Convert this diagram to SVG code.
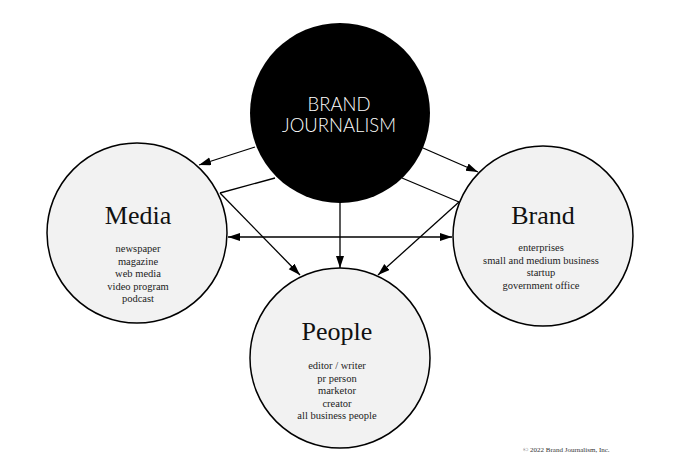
<svg xmlns="http://www.w3.org/2000/svg" width="679" height="469" viewBox="0 0 679 469">
<defs>
<marker id="arr" markerUnits="userSpaceOnUse" markerWidth="13" markerHeight="9" refX="12" refY="4" orient="auto-start-reverse">
<path d="M0,0 L12,4 L0,8 z" fill="#000"/>
</marker>
</defs>
<style>
.node{fill:#f2f2f2;stroke:#000;stroke-width:1.5}
.title{font-family:"Liberation Serif","Times New Roman",serif;font-size:26px;fill:#111;text-anchor:middle}
.item{font-family:"Liberation Serif","Times New Roman",serif;font-size:10.5px;fill:#222;text-anchor:middle}
.bj{font-family:"Lato","Noto Sans",sans-serif;font-weight:300;font-size:19px;fill:#fff;text-anchor:middle}
.edge{stroke:#000;stroke-width:1.3;fill:none}
.copy{font-family:"Liberation Serif","Times New Roman",serif;font-size:7px;fill:#333}
</style>
<rect width="679" height="469" fill="#fff"/>
<g id="connectors">
<line class="edge" x1="255" y1="147" x2="199" y2="165" marker-end="url(#arr)"/>
<line class="edge" x1="423" y1="148" x2="478" y2="172" marker-end="url(#arr)"/>
<line class="edge" x1="275" y1="178" x2="220" y2="193"/>
<line class="edge" x1="220" y1="193" x2="300" y2="275" marker-end="url(#arr)"/>
<line class="edge" x1="402" y1="178" x2="459" y2="202"/>
<line class="edge" x1="459" y1="202" x2="378" y2="275" marker-end="url(#arr)"/>
<line class="edge" x1="340" y1="203" x2="340" y2="268" marker-end="url(#arr)"/>
<line class="edge" x1="228" y1="237" x2="452" y2="237" marker-start="url(#arr)" marker-end="url(#arr)"/>
</g>
<g id="brand-journalism">
<circle cx="340" cy="113" r="90" fill="#000"/>
<text class="bj" x="339" y="111" textLength="63" lengthAdjust="spacingAndGlyphs">BRAND</text>
<text class="bj" x="339" y="132" textLength="114" lengthAdjust="spacingAndGlyphs">JOURNALISM</text>
</g>
<g id="media">
<circle class="node" cx="137" cy="233" r="90"/>
<text class="title" x="138" y="224">Media</text>
<text class="item" x="138" y="252">newspaper</text>
<text class="item" x="138" y="264.5">magazine</text>
<text class="item" x="138" y="277">web media</text>
<text class="item" x="138" y="289.5">video program</text>
<text class="item" x="138" y="302">podcast</text>
</g>
<g id="brand">
<circle class="node" cx="543" cy="236" r="90"/>
<text class="title" x="543" y="224">Brand</text>
<text class="item" x="541" y="251">enterprises</text>
<text class="item" x="541" y="263.5">small and medium business</text>
<text class="item" x="541" y="276">startup</text>
<text class="item" x="541" y="288.5">government office</text>
</g>
<g id="people">
<circle class="node" cx="340" cy="358" r="90"/>
<text class="title" x="337" y="340">People</text>
<text class="item" x="337" y="369">editor / writer</text>
<text class="item" x="337" y="381.5">pr person</text>
<text class="item" x="337" y="394">marketor</text>
<text class="item" x="337" y="406.5">creator</text>
<text class="item" x="337" y="419">all business people</text>
</g>
<text class="copy" x="523" y="452">© 2022 Brand Journalism, Inc.</text>
</svg>
